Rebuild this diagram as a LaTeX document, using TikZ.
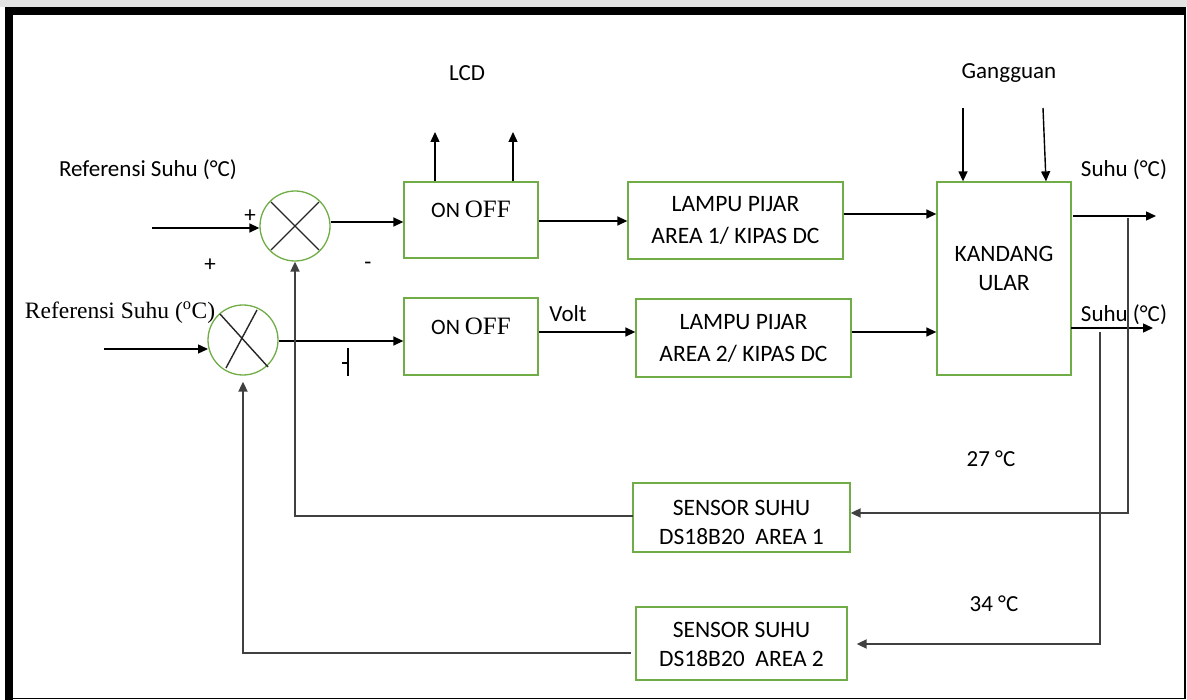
\documentclass[tikz,border=0pt]{standalone}
\usepackage{fontspec}
\setmainfont{Liberation Serif}
\newfontfamily\calib{Carlito}
\usetikzlibrary{arrows.meta}
\definecolor{boxgreen}{HTML}{70AD47}
\definecolor{fbgray}{HTML}{404040}
\begin{document}
\begin{tikzpicture}[x=1pt,y=-1pt,
  blk/.style={draw=boxgreen, line width=1.3pt, inner sep=0pt, align=center,
    font=\calib\fontsize{23.5}{32}\selectfont},
  sumc/.style={draw=boxgreen, line width=1.3pt, circle, minimum size=70pt, inner sep=0pt},
  lab/.style={font=\calib\fontsize{23}{27}\selectfont, inner sep=0pt},
  tlab/.style={font=\fontsize{23.5}{27}\selectfont, inner sep=0pt},
  conn/.style={line width=1.4pt, -{Triangle[length=10pt,width=9pt]}},
  fb/.style={draw=fbgray, line width=1.8pt, -{Triangle[length=10pt,width=9pt]}},
  xline/.style={line width=1.4pt, draw=black!85},
]
\useasboundingbox (0,0) rectangle (1187,700);
% background band and frame
\fill[gray!22] (0,0) rectangle (1187,7);
\fill[white] (13,15) rectangle (1184,697);
\draw[line width=8pt] (9,700) -- (9,11) -- (1186,11);
\draw[line width=1.6pt] (1185,11) -- (1185,698.5) -- (9,698.5);

% summing junctions
\node[sumc] (c1) at (295,226) {};
\draw[xline] (295-24,226-24) -- (295+24,226+24) (295+24,226-24) -- (295-24,226+24);
\node[sumc] (c2) at (243,340) {};
\draw[xline] (220,314) -- (268,367) (257,310) -- (226,368);

% blocks
\node[blk, minimum width=134pt, minimum height=76pt] (on1) at (471,220)
  {\raisebox{2pt}[0pt][0pt]{\fontsize{22}{24}\selectfont ON \fontsize{25}{28}\rmfamily OFF}};
\node[blk, minimum width=134pt, minimum height=77pt] (on2) at (471,336.5)
  {\raisebox{1.5pt}[0pt][0pt]{\fontsize{22}{24}\selectfont ON \fontsize{25}{28}\rmfamily OFF}};
\node[blk, minimum width=215pt, minimum height=77pt] (lp1) at (735.5,220.5)
  {LAMPU PIJAR\\AREA 1/ KIPAS DC};
\node[blk, minimum width=215pt, minimum height=78pt] (lp2) at (743.5,338)
  {LAMPU PIJAR\\AREA 2/ KIPAS DC};
\node[blk, minimum width=134pt, minimum height=193pt] (kd) at (1004,278.5)
  {\raisebox{2.5pt}[0pt][0pt]{\begin{tabular}{@{}c@{}}KANDANG\\[-3pt]ULAR\end{tabular}}};
\node[blk, minimum width=217pt, minimum height=69pt] (s1) at (741.5,517.5)
  {\raisebox{-12.4pt}[0pt][0pt]{\begin{tabular}{@{}c@{}}SENSOR SUHU\\[-3pt]DS18B20\ \ AREA 1\end{tabular}}};
\node[blk, minimum width=211pt, minimum height=73pt] (s2) at (741.5,643.5)
  {\raisebox{-8.4pt}[0pt][0pt]{\begin{tabular}{@{}c@{}}SENSOR SUHU\\[-3pt]DS18B20\ \ AREA 2\end{tabular}}};

% free ends and routing coordinates
\coordinate (in1) at (152,228);
\coordinate (in2) at (104,349);
\coordinate (r1) at (0,222);
\coordinate (r2) at (0,341);
\coordinate (r3) at (0,221);
\coordinate (r4) at (0,332);
\coordinate (r5) at (0,214);
\coordinate (lcd1) at (435,132);
\coordinate (lcd2) at (513,132);
\coordinate (g1) at (963,108);
\coordinate (g2) at (1043,108);
\coordinate (o1s) at (1073,216);
\coordinate (o1) at (1156,216);
\coordinate (o2s) at (1071,328);
\coordinate (o2) at (1153,328);
\coordinate (f1) at (1128,218);
\coordinate (f1b) at (1128,513);
\coordinate (f2) at (1100,332);
\coordinate (f2b) at (1100,644);
\coordinate (s1o) at (633,516);
\coordinate (s2o) at (631,653);

% forward path
\draw[conn] (in1) -- (in1 -| c1.west);
\draw[conn] (in2) -- (208,349);
\draw[conn] (c1.east |- r1) -- (on1.west |- r1);
\draw[conn] (c2.east |- r2) -- (on2.west |- r2);
\draw[conn] (on1.east |- r3) -- (lp1.west |- r3);
\draw[conn] (on2.east |- r4) -- (lp2.west |- r4);
\draw[conn] (lp1.east |- r5) -- (kd.west |- r5);
\draw[conn] (lp2.east |- r4) -- (kd.west |- r4);
\draw[conn] (on1.north -| lcd1) -- (lcd1);
\draw[conn] (on1.north -| lcd2) -- (lcd2);
\draw[conn] (g1) -- (g1 |- kd.north);
\draw[conn] (g2) -- ([xshift=3pt]g2 |- kd.north);
\draw[conn] (o1s) -- (o1);
\draw[conn] (o2s) -- (o2);

% feedback paths
\draw[fb] (f1) -- (f1b) -- (s1.east |- f1b);
\draw[fb, shorten >=9pt] (f2) -- (f2b) -- (s2.east |- f2b);
\draw[fb] (s1o) -| (c1.south);
\draw[fb, shorten >=6pt] (s2o) -| (c2.south);

% small mark
\draw[line width=1.3pt] (348,348) -- (348,376) (342,363) -- (348,363);

% labels
\node[lab] (lref1) at (148,170) {Referensi Suhu (°C)};
\node[tlab] (lref2) at (120,313) {Referensi Suhu (\textsuperscript{o}C)};
\node[lab] (p1) at (250,216) {+};
\node[lab] (p2) at (210,265) {+};
\node[lab] (m1) at (368,266) {-};
\node[lab] (llcd) at (467,73) {LCD};
\node[lab] (lgang) at (1009,73) {Gangguan};
\node[lab] (lsuhu1) at (1124,170) {Suhu (°C)};
\node[lab] (lsuhu2) at (1124,315) {Suhu (°C)};
\node[lab] (lvolt) at (568,314) {Volt};
\node[lab] (l27) at (991,459) {27 °C};
\node[lab] (l34) at (994,604) {34 °C};
\end{tikzpicture}
\end{document}
